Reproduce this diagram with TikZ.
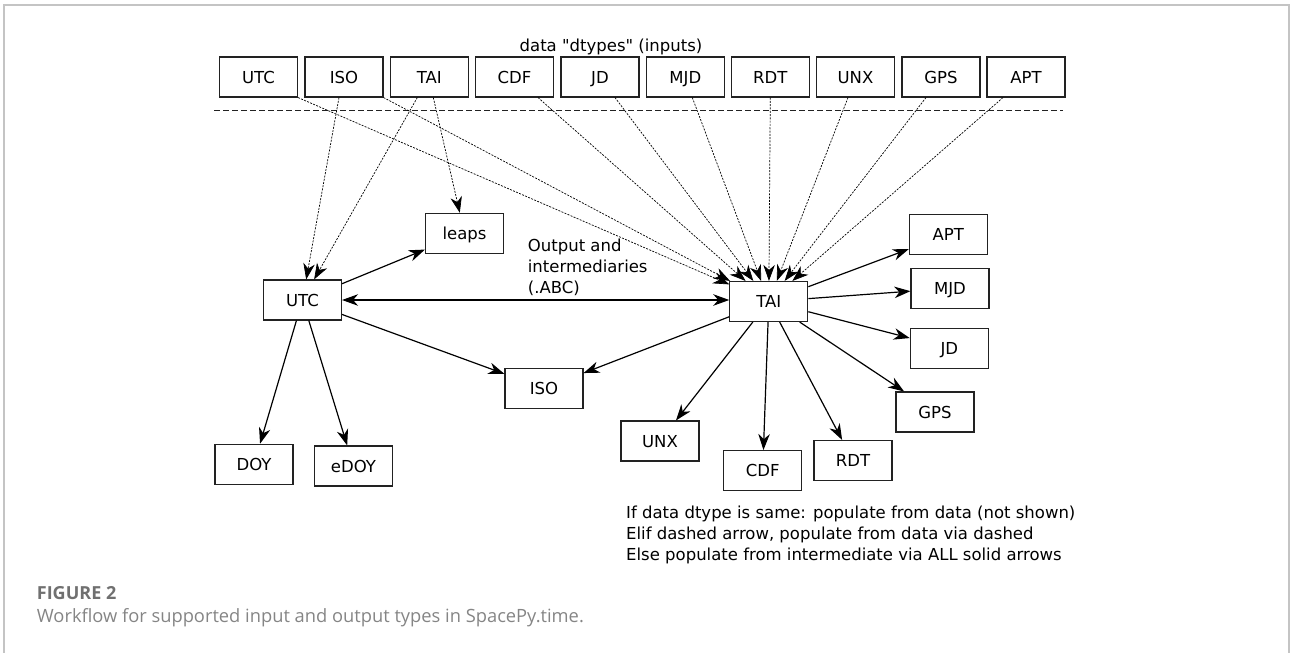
\documentclass[tikz,border=0pt]{standalone}
\usepackage{fontspec}
\setmainfont{DejaVu Sans}
\newfontfamily\dfont{DejaVu Sans}
\newfontfamily\capfont{Open Sans}
\usetikzlibrary{arrows.meta}
\definecolor{framegray}{HTML}{C4C4C4}
\definecolor{boxline}{HTML}{222222}
\definecolor{capgray}{HTML}{707070}
\begin{document}
\begin{tikzpicture}[x=1pt,y=-1pt,
  box/.style={draw=boxline, line width=1.1pt, minimum width=78pt, minimum height=40pt,
    inner sep=0pt, text height=12pt, text depth=0pt, font=\dfont\fontsize{16.5}{19}\selectfont},
  headtip/.tip={Stealth[length=16pt,width=11.5pt,inset=5pt]},
  tip/.style={-headtip},
  inarrow/.style={tip, draw=black, line width=0.7pt, dash pattern=on 2pt off 1.3pt},
  outarrow/.style={tip, draw=black, line width=1.2pt},
  sepline/.style={draw=boxline, line width=1pt, dash pattern=on 6pt off 3pt},
  txt/.style={inner sep=0pt, font=\dfont\fontsize{16.5}{20.9}\selectfont, align=left},
  frame/.style={draw=framegray, line width=1.4pt}]
\useasboundingbox (0,0) rectangle (1290,653);
\draw[frame] (4,653) -- (4,5) -- (1289,5) -- (1289,653);

% inputs
\node[txt, align=center, anchor=base] (inlabel) at (611,51) {data "dtypes" (inputs)};
\node[box] (iUTC) at (258.5,77) {UTC};
\node[box] (iISO) at (344,77) {ISO};
\node[box] (iTAI) at (429.3,77) {TAI};
\node[box] (iCDF) at (514.5,77) {CDF};
\node[box] (iJD)  at (600,77) {JD};
\node[box] (iMJD) at (685.3,77) {MJD};
\node[box] (iRDT) at (770.3,77) {RDT};
\node[box] (iUNX) at (855.5,77) {UNX};
\node[box] (iGPS) at (941,77) {GPS};
\node[box] (iAPT) at (1026,77) {APT};

\draw[sepline] (214,110) -- (1063,110);

% intermediates / outputs
\node[box] (leaps) at (464.5,233.3) {leaps};
\node[box] (utc) at (302.5,300) {UTC};
\node[box] (tai) at (768.8,301.5) {TAI};
\node[box] (iso) at (544,388.3) {ISO};
\node[box] (doy) at (254,464.3) {DOY};
\node[box] (edoy) at (353.5,466) {eDOY};
\node[box] (apt) at (948.3,234.3) {APT};
\node[box] (mjd) at (950,288.3) {MJD};
\node[box] (jd) at (949.3,348.3) {JD};
\node[box] (gps) at (935,412) {GPS};
\node[box] (unx) at (660,441) {UNX};
\node[box] (cdf) at (762.7,470.6) {CDF};
\node[box] (rdt) at (853,460.5) {RDT};

\node[txt, anchor=base west] (midlabel) at (527.7,293.1) {Output and\\intermediaries\\(.ABC)};
\node[txt, anchor=base west] (rules) at (626,560.6) {If data dtype is same: populate from data (not shown)\\Elif dashed arrow, populate from data via dashed\\Else populate from intermediate via ALL solid arrows};

% dashed input arrows
\draw[inarrow] (iUTC.south east) -- (tai);
\draw[inarrow] ([xshift=-5pt]iISO.south) -- (utc);
\draw[inarrow] (iISO.south east) -- (tai);
\draw[inarrow] ([xshift=-12pt]iTAI.south) -- (utc);
\draw[inarrow] ([xshift=4pt]iTAI.south) -- (leaps);
\draw[inarrow] ([xshift=23.5pt]iCDF.south) -- (tai);
\draw[inarrow] ([xshift=15pt]iJD.south) -- (tai);
\draw[inarrow] ([xshift=7pt]iMJD.south) -- (tai);
\draw[inarrow] (iRDT.south) -- (tai);
\draw[inarrow] ([xshift=-7.5pt]iUNX.south) -- (tai);
\draw[inarrow] ([xshift=-15pt]iGPS.south) -- (tai);
\draw[inarrow] ([xshift=-23pt]iAPT.south) -- (tai);

% solid arrows
\draw[outarrow] (utc) -- (leaps);
\draw[outarrow, headtip-headtip] (utc.east) -- (tai.west |- utc.east);
\draw[outarrow] (utc) -- (iso);
\draw[outarrow] (tai) -- (iso);
\draw[outarrow] (utc) -- (doy);
\draw[outarrow] (utc) -- (edoy);
\draw[outarrow] (tai) -- (apt);
\draw[outarrow] (tai) -- (mjd);
\draw[outarrow] (tai) -- (jd);
\draw[outarrow] (tai) -- (gps);
\draw[outarrow] (tai) -- (unx);
\draw[outarrow] (tai) -- (cdf);
\draw[outarrow] (tai) -- (rdt);

% caption
\node[inner sep=0pt, anchor=base west, text=capgray, font=\capfont\bfseries\fontsize{18}{22}\selectfont] (figlabel) at (36.7,599.8) {FIGURE 2};
\node[inner sep=0pt, anchor=base west, text=capgray!85, font=\capfont\fontsize{18.3}{22}\selectfont] (caption) at (36.7,622.4) {Workflow for supported input and output types in SpacePy.time.};
\end{tikzpicture}
\end{document}
